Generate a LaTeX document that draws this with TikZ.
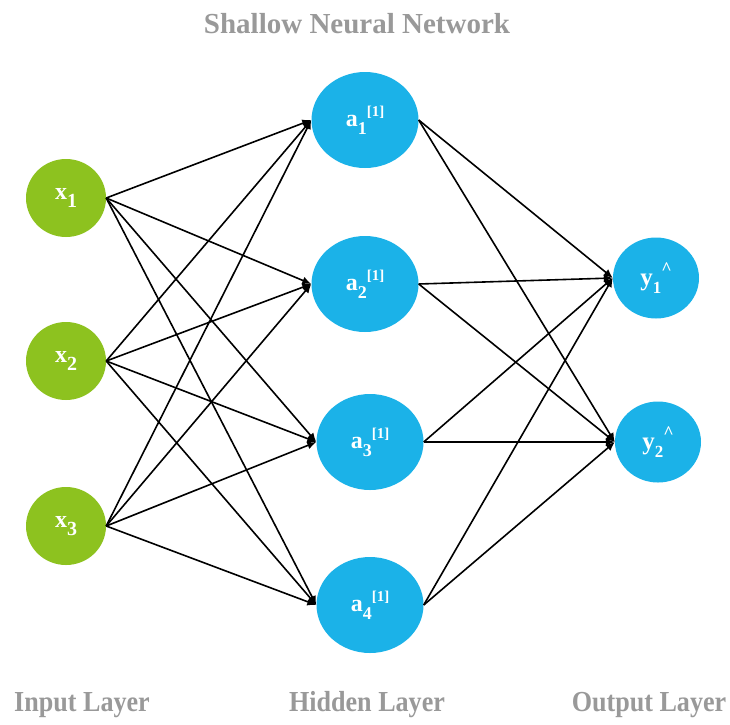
\documentclass[tikz,border=0pt]{standalone}
\usepackage{fontspec}
\setmainfont{Liberation Serif}
\usetikzlibrary{shapes.geometric,arrows.meta}
\definecolor{inputgreen}{RGB}{141,194,31}
\definecolor{unitblue}{RGB}{27,178,232}
\definecolor{captiongray}{RGB}{153,153,153}
% subscript / superscript pieces for the unit labels
\newcommand{\nsub}[2][18]{\raisebox{-0.32em}{\fontsize{#1}{#1}\selectfont #2}}
\newcommand{\nsup}[2][15]{\raisebox{0.42em}{\fontsize{#1}{#1}\selectfont #2}}
\begin{document}
\begin{tikzpicture}[x=1pt,y=-1pt,
  unit/.style={ellipse, inner sep=0pt, text=white},
  inputnode/.style={unit, fill=inputgreen, minimum width=80pt, minimum height=78pt,
    font=\bfseries\fontsize{24}{26}\selectfont},
  hiddennode/.style={unit, fill=unitblue, minimum width=107pt, minimum height=96pt,
    font=\bfseries\fontsize{24}{26}\selectfont},
  outputnode/.style={unit, fill=unitblue, minimum width=86pt, minimum height=81pt,
    font=\bfseries\fontsize{25}{26}\selectfont},
  caption/.style={anchor=base, text=captiongray, font=\bfseries\fontsize{29}{32}\selectfont},
  link/.style={line width=1.6pt, -{Latex[length=9pt,width=8pt]}}]
\useasboundingbox (0,0) rectangle (730,724);

% title
\node[caption] (title) at (357,33) {Shallow Neural Network};

% input layer
\node[inputnode] (x1) at (66,198) {x\nsub[20]{1}};
\node[inputnode] (x2) at (66,361) {x\nsub[20]{2}};
\node[inputnode] (x3) at (66,526) {x\nsub[20]{3}};

% hidden layer
\node[hiddennode] (a1) at (365,120) {a\nsub{1}\nsup{[1]}};
\node[hiddennode] (a2) at (365,284) {a\nsub{2}\nsup{[1]}};
\node[hiddennode] (a3) at (370,442) {a\nsub{3}\nsup{[1]}};
\node[hiddennode] (a4) at (370,605) {a\nsub{4}\nsup{[1]}};

% output layer
\node[outputnode] (y1) at (656,278) {y\nsub[17]{1}\nsup[18]{\textasciicircum}};
\node[outputnode] (y2) at (658,442) {y\nsub[17]{2}\nsup[18]{\textasciicircum}};

% connections
\foreach \i in {1,2,3}
  \foreach \j in {1,2,3,4}
    \draw[link] (x\i.east) -- (a\j.west);
\foreach \j in {1,2,3,4}
  \foreach \k in {1,2}
    \draw[link] (a\j.east) -- (y\k.west);

% layer captions
\node[caption] (lin) at (82,711) {\scalebox{0.9}[1]{Input Layer}};
\node[caption] (lhid) at (367,711) {\scalebox{0.9}[1]{Hidden Layer}};
\node[caption] (lout) at (649,711) {\scalebox{0.9}[1]{Output Layer}};
\end{tikzpicture}
\end{document}
